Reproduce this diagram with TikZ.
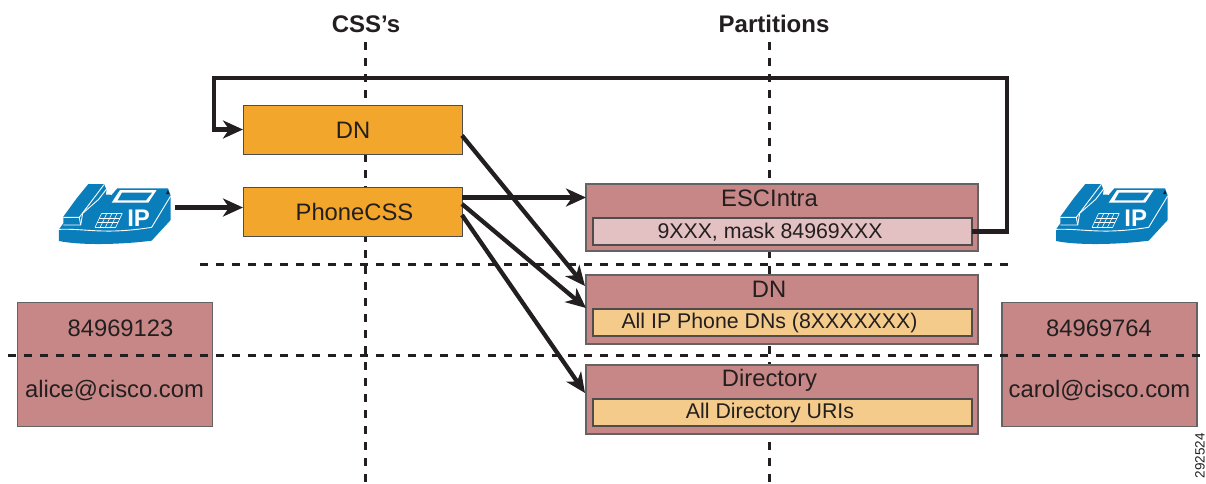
\documentclass[tikz,border=0pt]{standalone}
\usepackage{fontspec}
\setmainfont{Liberation Sans}
\usetikzlibrary{arrows.meta,calc}
\definecolor{ink}{HTML}{231F20}
\definecolor{orangebox}{HTML}{F2A62B}
\definecolor{rosebox}{HTML}{C78786}
\definecolor{paleRose}{HTML}{E3C0C1}
\definecolor{tanbox}{HTML}{F5CB8C}
\definecolor{phoneblue}{HTML}{0A7DBB}
\tikzset{
  x=1pt,y=-1pt,
  every node/.style={font=\fontsize{23.8}{26}\selectfont,text=ink,inner sep=0pt,outer sep=0pt},
  innerlabel/.style={font=\fontsize{21.3}{24}\selectfont},
  cssbox/.style={draw=ink!80,line width=1pt,fill=orangebox},
  partbox/.style={draw=ink!70,line width=1.1pt,fill=rosebox},
  rosein/.style={draw=ink!80,line width=1.1pt,fill=paleRose},
  taninner/.style={draw=ink!80,line width=1.1pt,fill=tanbox},
  guide/.style={draw=ink,line width=3pt,dash pattern=on 8pt off 8pt},
  flow/.style={draw=ink,line width=4.3pt,-{Stealth[length=20pt,width=18pt,inset=6pt]}},
  heading/.style={font=\fontsize{24}{26}\selectfont\bfseries},
  phoneline/.style={draw=white,line width=0.9pt,line join=round},
  pics/ipphone/.style={code={
    \begin{scope}[x=0.3333pt,y=-0.3333pt]
      \fill[phoneblue] (57,178) -- (70,160) -- (70,140) -- (110,85) -- (145,42) -- (192,42) -- (200,60) -- (214,76) -- (232,55) -- (384,55) -- (392,76) -- (392,150) -- (335,212) .. controls (260,222) and (130,228) .. (57,213) -- cycle;
      \draw[phoneline] (57,178) .. controls (140,175) and (190,195) .. (335,172) -- (392,78);
      \draw[phoneline] (70,142) -- (118,142) -- (122,165) -- (70,165);
      \draw[phoneline] (118,142) -- (192,44);
      \draw[phoneline] (122,165) -- (128,130) -- (176,88) -- (205,50);
      \fill[white] (215,98) -- (240,60) -- (350,60) -- (325,98) -- cycle;
      \fill[phoneblue] (233,91) -- (246,68) -- (336,68) -- (318,91) -- cycle;
      \fill[white] (200,58) -- (216,74) -- (198,74) -- cycle;
      \fill[ink] (378,72) -- (384,60) -- (388,72) -- cycle;
      \foreach \t in {0,1,2,3}{
        \draw[white,line width=0.6pt] ({185-\t*6.5},{130+\t*14}) -- ({247-\t*6.5},{130+\t*14});
      }
      \foreach \t in {0,1,2,3,4}{
        \draw[white,line width=0.6pt] ({185+\t*15.5},130) -- ({165+\t*15.5},172);
      }
      \node[font=\fontsize{24}{24}\selectfont\bfseries,text=white] at (296,146) {IP};
    \end{scope}
  }}
}
\begin{document}
\begin{tikzpicture}
\useasboundingbox (0,0) rectangle (1206,483);
% vertical guides (behind boxes)
\coordinate (cssTop) at (365,42);
\coordinate (cssBot) at (365,483);
\coordinate (partTop) at (769,42);
\coordinate (partBot) at (769,483);
\draw[guide] (cssTop) -- (cssBot);
\draw[guide] (partTop) -- (partBot);
% headings
\node[heading] (hCss) at (366,24) {CSS’s};
\node[heading] (hPart) at (774,24) {Partitions};
% CSS boxes
\node[cssbox,minimum width=219pt,minimum height=49pt] (cssDN) at (352.5,129.5) {};
\node (tCssDN) at (353,130) {DN};
\node[cssbox,minimum width=219pt,minimum height=49pt] (cssPhone) at (352.5,211.5) {};
\node (tCssPhone) at (354.5,212) {PhoneCSS};
% partitions
\node[partbox,minimum width=392pt,minimum height=67pt] (pEsc) at (782,217.5) {};
\node[rosein,minimum width=379pt,minimum height=27pt] (iEsc) at (782.5,231.5) {};
\node[innerlabel] (lEsc) at (770,232) {9XXX, mask 84969XXX};
\node (tEsc) at (769.5,198) {ESCIntra};
\node[partbox,minimum width=392pt,minimum height=69pt] (pDN) at (782,309.5) {};
\node[taninner,minimum width=379pt,minimum height=27pt] (iDN) at (782.5,322.5) {};
\node[innerlabel] (lDN) at (769.5,323) {All IP Phone DNs (8XXXXXXX)};
\node (tDN) at (769,289) {DN};
\node[partbox,minimum width=392pt,minimum height=69pt] (pDir) at (782,399.5) {};
\node[taninner,minimum width=379pt,minimum height=27pt] (iDir) at (782.5,412.5) {};
\node[innerlabel] (lDir) at (770,413) {All Directory URIs};
\node (tDir) at (769.5,380) {Directory};
% endpoints
\node[partbox,minimum width=195pt,minimum height=124pt] (left) at (115,364.5) {};
\node (l1) at (120.5,328) {84969123};
\node (l2) at (114.5,391) {alice@cisco.com};
\node[partbox,minimum width=195pt,minimum height=124pt] (right) at (1099.5,364.5) {};
\node (r1) at (1099,328) {84969764};
\node (r2) at (1099.5,391) {carol@cisco.com};
% horizontal guides
\coordinate (h1a) at (200,264);
\coordinate (h1b) at (1008,264);
\coordinate (h2a) at (8,355);
\coordinate (h2b) at (1202,355);
\draw[guide] (h1a) -- (h1b);
\draw[guide] (h2a) -- (h2b);
% phones
\pic at (40,170) {ipphone};
\pic at (1037,170) {ipphone};
\coordinate (phoneOut) at (175,207.5);
% connectors
\draw[flow] (phoneOut) -- (cssPhone.west |- phoneOut);
\draw[flow,line join=miter] (iEsc.east) -- ++(35,0) |- (214,78) |- (cssDN.west);
\draw[flow] (cssDN.east) ++(0,6) -- ($(pDN.north west)+(-1,11)$);
\draw[flow] (cssPhone.north east) ++(0,10.5) -- (pEsc.west |- {$(cssPhone.north east)+(0,10.5)$});
\draw[flow] (cssPhone.north east) ++(0,17) -- ($(pDN.west)+(0,-1.5)$);
\draw[flow] (cssPhone.north east) ++(0,28) -- ($(pDir.north west)+(-1,28)$);
% figure number
\node[font=\fontsize{13.5}{13.5}\selectfont,rotate=90,anchor=east] (figId) at (1200,433) {292524};
\end{tikzpicture}
\end{document}
